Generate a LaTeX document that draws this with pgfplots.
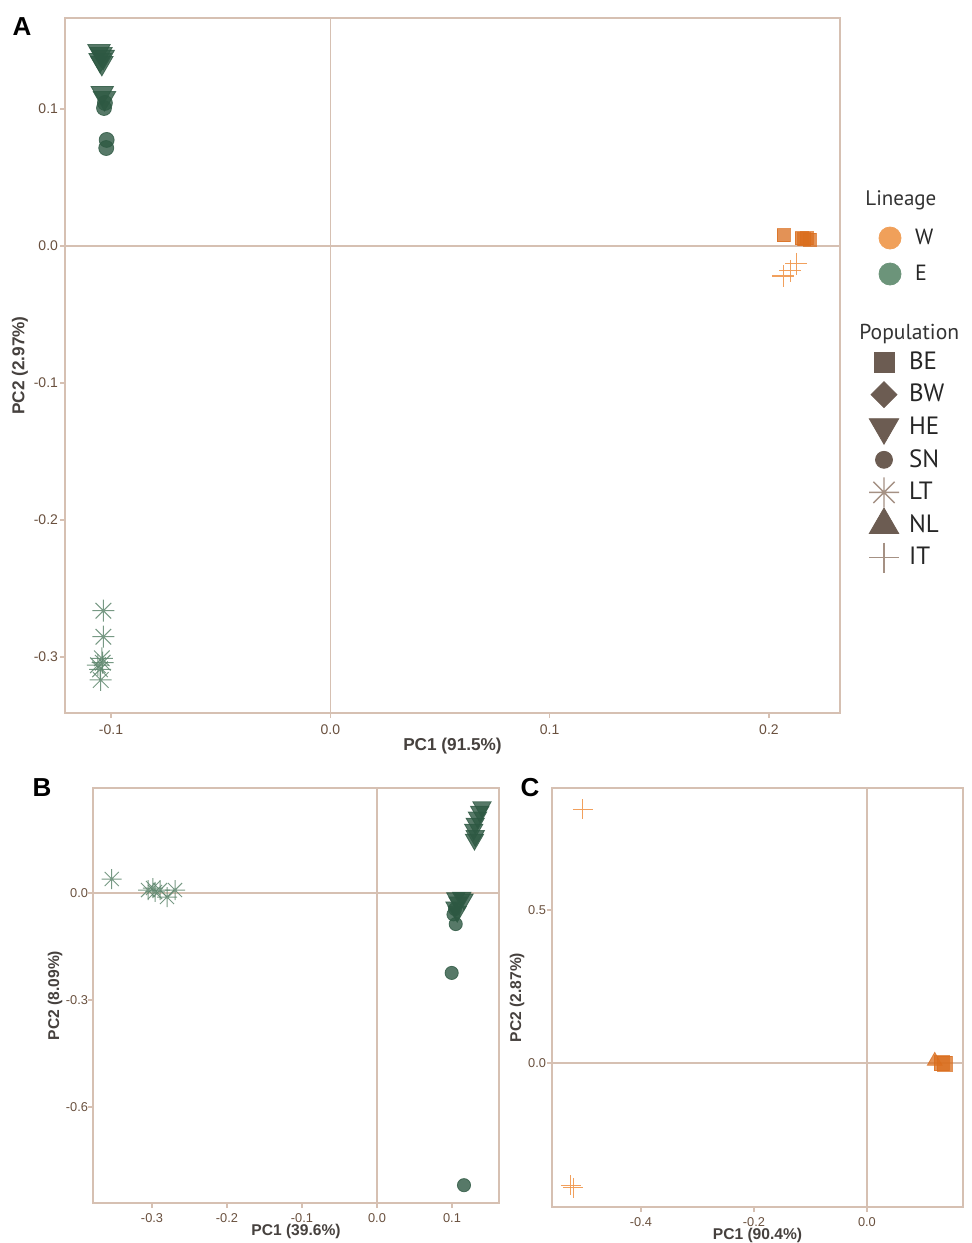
\documentclass[border=0pt]{standalone}
\usepackage{fontspec}
\setmainfont{Liberation Sans}
\newfontfamily\legfont{PT Sans}
\usepackage{pgfplots}
\pgfplotsset{compat=1.18}
\usetikzlibrary{plotmarks}

\definecolor{frame}{RGB}{214,192,178}
\definecolor{ticklab}{RGB}{105,80,62}
\definecolor{axlab}{RGB}{70,65,62}
\definecolor{Eg}{RGB}{45,88,66}
\definecolor{Estar}{RGB}{95,135,110}
\definecolor{Wo}{RGB}{218,110,30}
\definecolor{Wplus}{RGB}{240,150,75}
\definecolor{legW}{RGB}{240,160,90}
\definecolor{legE}{RGB}{108,148,122}
\definecolor{legB}{RGB}{108,92,82}
\definecolor{legBl}{RGB}{165,145,132}

\pgfdeclareplotmark{ast8}{%
  \pgfpathmoveto{\pgfqpoint{-\pgfplotmarksize}{0pt}}\pgfpathlineto{\pgfqpoint{\pgfplotmarksize}{0pt}}%
  \pgfpathmoveto{\pgfqpoint{0pt}{-\pgfplotmarksize}}\pgfpathlineto{\pgfqpoint{0pt}{\pgfplotmarksize}}%
  \pgfpathmoveto{\pgfqpoint{-0.707\pgfplotmarksize}{-0.707\pgfplotmarksize}}\pgfpathlineto{\pgfqpoint{0.707\pgfplotmarksize}{0.707\pgfplotmarksize}}%
  \pgfpathmoveto{\pgfqpoint{-0.707\pgfplotmarksize}{0.707\pgfplotmarksize}}\pgfpathlineto{\pgfqpoint{0.707\pgfplotmarksize}{-0.707\pgfplotmarksize}}%
  \pgfusepathqstroke}
\pgfdeclareplotmark{mydiamond}{%
  \pgfpathmoveto{\pgfqpoint{0pt}{\pgfplotmarksize}}\pgfpathlineto{\pgfqpoint{\pgfplotmarksize}{0pt}}%
  \pgfpathlineto{\pgfqpoint{0pt}{-\pgfplotmarksize}}\pgfpathlineto{\pgfqpoint{-\pgfplotmarksize}{0pt}}%
  \pgfpathclose\pgfusepathqfillstroke}

\pgfplotsset{pca/.style={
  scale only axis, enlargelimits=false, clip=false,
  axis line style={draw=frame, line width=0.7pt},
  tick align=outside, major tick length=2.5pt,
  every tick/.style={draw=frame, line width=0.6pt},
  tick pos=left,
  ticklabel style={font=\fontsize{7}{8}\selectfont, text=ticklab},
  label style={font=\fontsize{7.8}{9}\selectfont\bfseries, text=axlab},
  /pgf/number format/fixed, /pgf/number format/fixed zerofill,
  /pgf/number format/precision=1, /pgf/number format/assume math mode=true,
},
small ticks/.style={ticklabel style={font=\fontsize{6.4}{7}\selectfont}, xticklabel style={yshift=1pt}},
Etri/.style={only marks, mark=triangle*, mark options={rotate=180, fill=Eg, draw=Eg, opacity=0.8}},
Ecirc/.style={only marks, mark=*, mark options={fill=Eg, draw=Eg, opacity=0.8}},
Estar/.style={only marks, mark=ast8, mark options={draw=Estar, line width=0.5pt, opacity=0.85}},
Wsq/.style={only marks, mark=square*, mark options={fill=Wo, draw=Wo, opacity=0.75}},
Wtri/.style={only marks, mark=triangle*, mark options={fill=Wo, draw=Wo, opacity=0.75}},
Wplus/.style={only marks, mark=+, mark options={draw=Wplus, line width=0.55pt, opacity=0.9}},
leg/.style={hide axis, scale only axis, width=1pt, height=1pt, xmin=0, xmax=1, ymin=0, ymax=1,
  anchor=north west,
  legend image code/.code={\path[draw=none, fill=none] (-9pt,-7pt) rectangle (9pt,7pt); \path[##1, overlay] plot coordinates {(0pt,0pt)};},
  legend cell align=left,
  legend style={draw=none, fill=none, inner sep=0pt, outer sep=0pt, column sep=3.5pt,
    at={(0,1)}, anchor=north west, nodes={inner sep=0pt}, text=black!85}},
}

\begin{document}
\begin{tikzpicture}
\useasboundingbox (0,0) rectangle (486pt,-621.5pt);

% ---------------- Panel A ----------------
\begin{axis}[pca, at={(32.5pt,-356.5pt)}, anchor=south west, width=387.5pt, height=347.5pt,
  xmin=-0.121, xmax=0.2324, ymin=-0.3409, ymax=0.1664,
  xtick={-0.1,0,0.1,0.2}, ytick={-0.3,-0.2,-0.1,0,0.1},
  yticklabel style={xshift=2.5pt},
  xlabel={PC1 (91.5\%)}, ylabel={PC2 (2.97\%)},
  xlabel style={at={(axis description cs:0.5,0)}, anchor=center, yshift=-16.5pt, font=\fontsize{8.6}{10}\selectfont\bfseries},
  ylabel style={at={(axis description cs:-0.058,0.5)}, anchor=center, font=\fontsize{8.6}{10}\selectfont\bfseries},
]
\draw[frame, line width=0.6pt] (axis cs:0,-0.3409) -- (axis cs:0,0.1664);
\draw[frame, line width=0.6pt] (axis cs:-0.121,0) -- (axis cs:0.2324,0);
\addplot[Estar, mark size=5.5pt] coordinates {(-0.1035,-0.2662) (-0.1035,-0.2852) (-0.1042,-0.3010) (-0.1038,-0.3042) (-0.1050,-0.3090) (-0.1047,-0.3168) (-0.1060,-0.3060)};
\addplot[Ecirc, mark size=3.75pt] coordinates {(-0.1028,0.1044) (-0.1032,0.1007) (-0.1020,0.0774) (-0.1022,0.0715)};
\addplot[Etri, mark size=6.5pt] coordinates {(-0.1055,0.1423) (-0.1046,0.1401) (-0.1036,0.1380) (-0.1050,0.1358) (-0.1042,0.1336) (-0.1040,0.1117) (-0.1030,0.1080)};
\addplot[Wsq, mark size=3.25pt] coordinates {(0.2066,0.0080) (0.2149,0.0056) (0.2171,0.0056) (0.2187,0.0044) (0.2160,0.0048)};
\addplot[Wplus, mark size=5.5pt] coordinates {(0.2066,-0.0219) (0.2098,-0.0182) (0.2125,-0.0131)};
\end{axis}

% ---------------- Panel B ----------------
\begin{axis}[pca, small ticks, at={(46.5pt,-601.5pt)}, anchor=south west, width=203pt, height=207.5pt,
  xmin=-0.3787, xmax=0.1627, ymin=-0.869, ymax=0.2944,
  xtick={-0.3,-0.2,-0.1,0,0.1}, ytick={-0.6,-0.3,0},
  yticklabel style={xshift=3.5pt},
  xlabel={PC1 (39.6\%)}, ylabel={PC2 (8.09\%)},
  xlabel style={at={(axis description cs:0.5,0)}, anchor=center, yshift=-14pt},
  ylabel style={at={(axis description cs:-0.0936,0.5)}, anchor=center},
]
\draw[frame, line width=0.6pt] (axis cs:0,-0.869) -- (axis cs:0,0.2944);
\draw[frame, line width=0.6pt] (axis cs:-0.3787,0) -- (axis cs:0.1627,0);
\addplot[Estar, mark size=5pt] coordinates {(-0.3537,0.0393) (-0.3053,0.0084) (-0.2987,0.0140) (-0.2893,0.0084) (-0.2800,-0.0112) (-0.2693,0.0084) (-0.2960,0.0030)};
\addplot[Ecirc, mark size=3.3pt] coordinates {(0.1050,-0.0870) (0.0996,-0.2240) (0.1160,-0.8190) (0.1020,-0.0600) (0.1040,-0.0450)};
\addplot[Etri, mark size=5.3pt] coordinates {(0.1400,0.2410) (0.1370,0.2280) (0.1340,0.2120) (0.1310,0.1950) (0.1290,0.1780) (0.1310,0.1600) (0.1300,0.1500)
  (0.1050,-0.0140) (0.1130,-0.0130) (0.1160,-0.0180) (0.1080,-0.0260) (0.1040,-0.0400) (0.1070,-0.0520)};
\end{axis}

% ---------------- Panel C ----------------
\begin{axis}[pca, small ticks, at={(276pt,-603.5pt)}, anchor=south west, width=205.5pt, height=209.5pt,
  xmin=-0.5575, xmax=0.170, ymin=-0.4706, ymax=0.8987,
  xtick={-0.4,-0.2,0}, ytick={0,0.5},
  yticklabel style={xshift=3pt},
  xlabel={PC1 (90.4\%)}, ylabel={PC2 (2.87\%)},
  xlabel style={at={(axis description cs:0.5,0)}, anchor=center, yshift=-14pt},
  ylabel style={at={(axis description cs:-0.085,0.5)}, anchor=center},
]
\draw[frame, line width=0.6pt] (axis cs:0,-0.4706) -- (axis cs:0,0.8987);
\draw[frame, line width=0.6pt] (axis cs:-0.5575,0) -- (axis cs:0.170,0);
\addplot[Wplus, mark size=5pt] coordinates {(-0.503,0.829) (-0.524,-0.399) (-0.520,-0.408)};
\addplot[Wtri, mark size=4.3pt] coordinates {(0.120,0.0065)};
\addplot[Wsq, mark size=3.75pt] coordinates {(0.138,-0.003) (0.132,0.000)};
\end{axis}

% ---------------- Legends ----------------
\begin{axis}[leg, at={(436pt,-112pt)},
  legend style={row sep=4pt, font=\legfont\fontsize{11}{12}\selectfont}]
\addplot[draw=none, forget plot] coordinates {(0,0)};
\addlegendimage{mark=*, mark size=5.5pt, mark options={fill=legW, draw=legW}}
\addlegendentry{W}
\addlegendimage{mark=*, mark size=5.5pt, mark options={fill=legE, draw=legE}}
\addlegendentry{E}
\end{axis}

\begin{axis}[leg, at={(433pt,-174pt)},
  legend style={row sep=2.3pt, font=\legfont\fontsize{12.5}{13}\selectfont}]
\addplot[draw=none, forget plot] coordinates {(0,0)};
\addlegendimage{mark=square*, mark size=5pt, mark options={fill=legB, draw=legB}}
\addlegendentry{BE}
\addlegendimage{mark=mydiamond, mark size=6.5pt, mark options={fill=legB, draw=legB}}
\addlegendentry{BW}
\addlegendimage{mark=triangle*, mark size=8.5pt, mark options={rotate=180, fill=legB, draw=legB}}
\addlegendentry{HE}
\addlegendimage{mark=*, mark size=4.25pt, mark options={fill=legB, draw=legB}}
\addlegendentry{SN}
\addlegendimage{mark=ast8, mark size=7.5pt, mark options={draw=legBl, line width=0.7pt}}
\addlegendentry{LT}
\addlegendimage{mark=triangle*, mark size=8.5pt, mark options={fill=legB, draw=legB}}
\addlegendentry{NL}
\addlegendimage{mark=+, mark size=7.5pt, mark options={draw=legBl, line width=0.7pt}}
\addlegendentry{IT}
\end{axis}

\node[anchor=west, inner sep=0pt, text=black!80, font=\legfont\fontsize{10.5}{12}\selectfont] at (432.5pt,-100pt) {Lineage};
\node[anchor=west, inner sep=0pt, text=black!80, font=\legfont\fontsize{10.8}{12}\selectfont] at (429.5pt,-167pt) {Population};

% panel letters
\node[font=\fontsize{13}{14}\selectfont\bfseries] at (11pt,-13.5pt) {A};
\node[font=\fontsize{13}{14}\selectfont\bfseries] at (21pt,-394pt) {B};
\node[font=\fontsize{13}{14}\selectfont\bfseries] at (265pt,-394pt) {C};
\end{tikzpicture}
\end{document}
